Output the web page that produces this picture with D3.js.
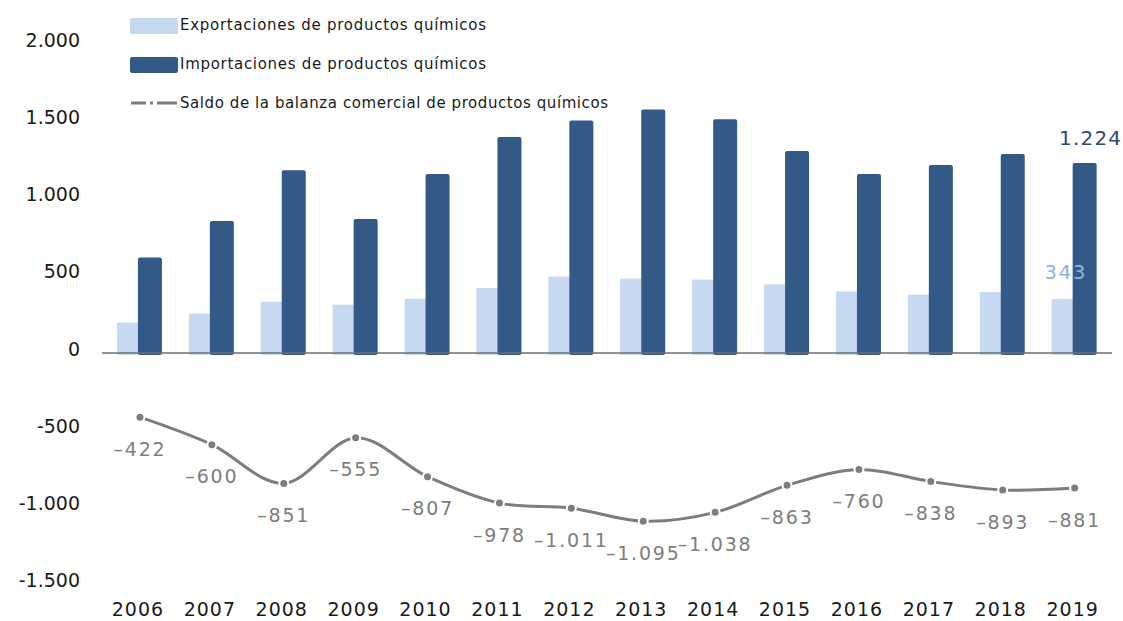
<!DOCTYPE html>
<html>
<head>
<meta charset="utf-8">
<script src="https://cdn.jsdelivr.net/npm/d3@7"></script>
<style>
  body { margin: 0; background: #fff; }
  svg { display: block; font-family: "DejaVu Sans", sans-serif; }
</style>
</head>
<body>
<svg width="1123" height="621"></svg>
<script>
// Data
let years = ['2006','2007','2008','2009','2010','2011','2012','2013','2014','2015','2016','2017','2018','2019']
let exportsData = [190, 248, 325, 306, 345, 414, 488, 475, 468, 438, 392, 372, 389, 343]
let importsData = [612, 848, 1176, 861, 1152, 1392, 1499, 1570, 1506, 1301, 1152, 1210, 1282, 1224]
let balanceData = [-422, -600, -851, -555, -807, -978, -1011, -1095, -1038, -863, -760, -838, -893, -881]
let yTicks = [2000, 1500, 1000, 500, 0, -500, -1000, -1500]

let legendLabels = [
  'Exportaciones de productos químicos',
  'Importaciones de productos químicos',
  'Saldo de la balanza comercial de productos químicos'
]

const lightBlue = '#c6d9f0'
const darkBlue = '#335a86'
const grey = '#7d7d7d'

const fmt = v => {
  let s = d3.format(',')(Math.abs(v)).replace(/,/g, '.')
  return (v < 0 ? '\u2013' : '') + s
}

let svg = d3.select('svg')

// Scales
let x = d3.scaleBand()
  .domain(years)
  .range([104, 1110.6])

let y = d3.scaleLinear()
  .domain([-1500, 2000])
  .range([583.75, 43])

let cx = d => x(d) + x.bandwidth() / 2
let barW = 24

// Y axis labels
svg.append('g')
  .selectAll('text')
  .data(yTicks)
  .enter()
  .append('text')
  .attr('x', 80)
  .attr('y', d => y(d) - 3)
  .attr('dy', '0.35em')
  .attr('text-anchor', 'end')
  .attr('font-size', 19)
  .attr('fill', '#1a1a1a')
  .text(d => fmt(d).replace('\u2013', '-'))

// Export bars
svg.append('g')
  .selectAll('rect')
  .data(years)
  .enter()
  .append('rect')
  .attr('x', d => cx(d) - 23)
  .attr('y', (d, i) => y(exportsData[i]))
  .attr('width', barW)
  .attr('height', (d, i) => y(0) + 3 - y(exportsData[i]))
  .attr('fill', lightBlue)

// Import bars
svg.append('g')
  .selectAll('rect')
  .data(years)
  .enter()
  .append('rect')
  .attr('x', d => cx(d) - 2)
  .attr('y', (d, i) => y(importsData[i]))
  .attr('width', barW)
  .attr('height', (d, i) => y(0) + 3 - y(importsData[i]))
  .attr('rx', 2)
  .attr('fill', darkBlue)

// Zero axis line
svg.append('line')
  .attr('x1', 102)
  .attr('x2', 1112)
  .attr('y1', y(0) + 1)
  .attr('y2', y(0) + 1)
  .attr('stroke', '#6f6f6f')
  .attr('stroke-width', 1.5)

// Value labels for last year
let last = years.length - 1
svg.append('text')
  .attr('x', cx(years[last]) + 16)
  .attr('y', y(importsData[last]) - 25)
  .attr('dy', '0.35em')
  .attr('text-anchor', 'middle')
  .attr('font-size', 20)
  .attr('letter-spacing', 1.2)
  .attr('fill', '#2c4a72')
  .text(fmt(importsData[last]))

svg.append('text')
  .attr('x', cx(years[last]) - 9)
  .attr('y', y(exportsData[last]) - 27)
  .attr('dy', '0.35em')
  .attr('text-anchor', 'middle')
  .attr('font-size', 20)
  .attr('letter-spacing', 1.5)
  .attr('fill', '#8fb3e0')
  .text(fmt(exportsData[last]))

// Balance line
let line = d3.line()
  .x((d, i) => cx(years[i]))
  .y(d => y(d))
  .curve(d3.curveCardinal)

svg.append('path')
  .datum(balanceData)
  .attr('d', line)
  .attr('fill', 'none')
  .attr('stroke', grey)
  .attr('stroke-width', 3)

svg.append('g')
  .selectAll('circle')
  .data(balanceData)
  .enter()
  .append('circle')
  .attr('cx', (d, i) => cx(years[i]))
  .attr('cy', d => y(d))
  .attr('r', 4.5)
  .attr('fill', grey)
  .attr('stroke', '#fff')
  .attr('stroke-width', 2)

svg.append('g')
  .selectAll('text')
  .data(balanceData)
  .enter()
  .append('text')
  .attr('x', (d, i) => cx(years[i]))
  .attr('y', d => y(d) + 32)
  .attr('dy', '0.35em')
  .attr('text-anchor', 'middle')
  .attr('font-size', 19)
  .attr('letter-spacing', 1.8)
  .attr('fill', grey)
  .text(d => fmt(d))

// X axis labels
svg.append('g')
  .selectAll('text')
  .data(years)
  .enter()
  .append('text')
  .attr('x', d => cx(d) - 2)
  .attr('y', 609)
  .attr('dy', '0.35em')
  .attr('text-anchor', 'middle')
  .attr('font-size', 19)
  .attr('letter-spacing', 1)
  .attr('fill', '#1a1a1a')
  .text(d => d)

// Legend
let legend = svg.append('g').attr('class', 'legend')
let legendY = [25, 64, 103]
let legendW = [306, 306, 428]

legend.append('rect')
  .attr('x', 130).attr('y', legendY[0] - 7)
  .attr('width', 48).attr('height', 16)
  .attr('rx', 1.5)
  .attr('fill', lightBlue)

legend.append('rect')
  .attr('x', 130).attr('y', legendY[1] - 7)
  .attr('width', 48).attr('height', 16)
  .attr('rx', 2)
  .attr('fill', darkBlue)

legend.append('line')
  .attr('x1', 131).attr('x2', 177)
  .attr('y1', legendY[2]).attr('y2', legendY[2])
  .attr('stroke', grey)
  .attr('stroke-width', 3)
  .attr('stroke-dasharray', '15,4,3,4,20')

legend.selectAll('text')
  .data(legendLabels)
  .enter()
  .append('text')
  .attr('x', 180)
  .attr('y', (d, i) => legendY[i])
  .attr('dy', '0.35em')
  .attr('font-size', 15)
  .attr('fill', '#1a1a1a')
  .attr('textLength', (d, i) => legendW[i])
  .attr('lengthAdjust', 'spacing')
  .text(d => d)
</script>
</body>
</html>
